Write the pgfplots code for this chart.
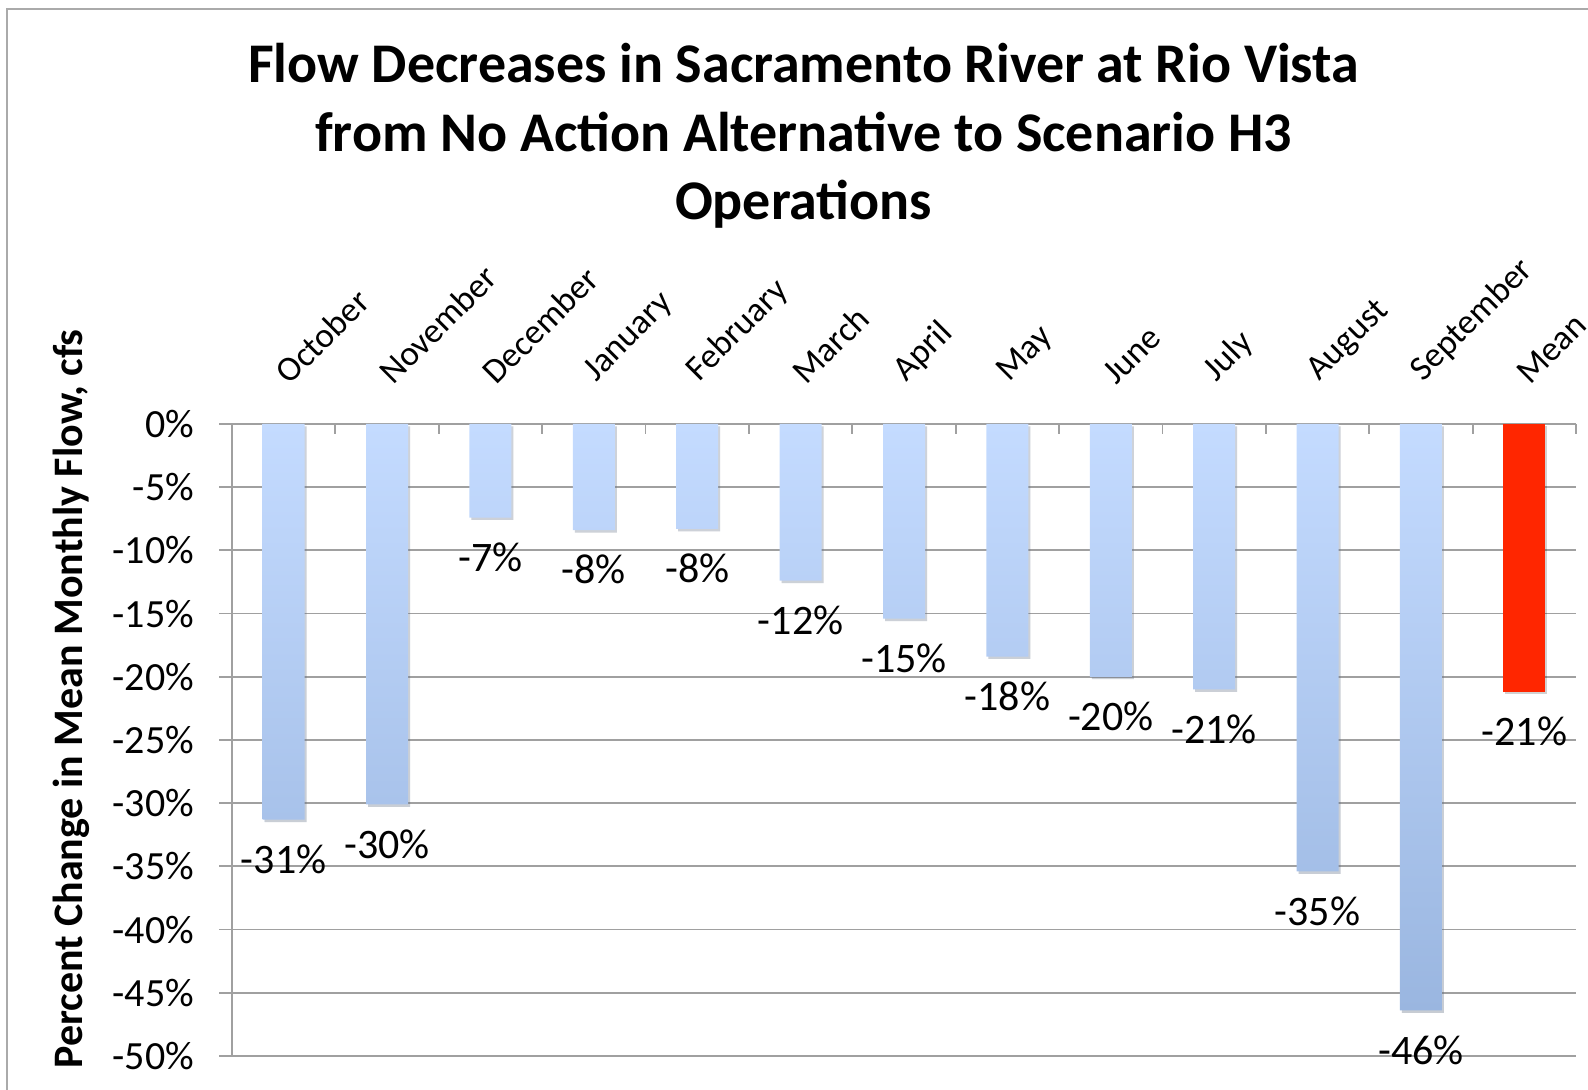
\documentclass[border=0pt]{standalone}
\usepackage{pgfplots}
\pgfplotsset{compat=1.18}
\usetikzlibrary{shadows}
\usepackage{fontspec}
\setmainfont{Carlito}
\definecolor{barTop}{RGB}{196,219,255}
\definecolor{barBot}{RGB}{154,182,224}
\definecolor{meanRed}{RGB}{255,38,0}
\definecolor{gridGray}{RGB}{160,160,160}
\definecolor{frameGray}{RGB}{170,170,170}
\begin{document}
\begin{tikzpicture}
\useasboundingbox (0pt,0pt) rectangle (794pt,545pt);
\draw[frameGray, line width=1pt] (3.5pt,-10pt) -- (3.5pt,540.5pt) -- (800pt,540.5pt);
\node[font=\fontsize{28}{34}\selectfont\bfseries, anchor=base] at (401.8pt,503.5pt) {Flow Decreases in Sacramento River at Rio Vista};
\node[font=\fontsize{28}{34}\selectfont\bfseries, anchor=base] at (401.8pt,469pt) {from No Action Alternative to Scenario H3};
\node[font=\fontsize{28}{34}\selectfont\bfseries, anchor=base] at (401.8pt,435pt) {Operations};
\node[font=\fontsize{21}{25}\selectfont\bfseries, rotate=90] at (35.5pt,195.5pt) {Percent Change in Mean Monthly Flow, cfs};
\begin{axis}[
  at={(116pt,17pt)}, anchor=south west, scale only axis,
  width=672pt, height=316pt,
  xmin=-0.5, xmax=12.5, ymin=-50, ymax=0,
  axis x line=top, axis y line=left,
  axis line style={draw=gridGray, line width=0.9pt, -},
  ytick={-50,-45,-40,-35,-30,-25,-20,-15,-10,-5,0},
  ymajorgrids, major grid style={draw=gridGray, line width=0.9pt},
  /pgf/number format/assume math mode=true,
  yticklabel={\pgfmathprintnumber{\tick}\%},
  tick align=outside, major tick length=6.5pt,
  tick style={draw=gridGray, line width=0.9pt},
  xtick={0,1,2,3,4,5,6,7,8,9,10,11,12},
  xticklabels={October,November,December,January,February,March,April,May,June,July,August,September,Mean},
  major x tick style={draw=none},
  minor xtick={-0.5,0.5,1.5,2.5,3.5,4.5,5.5,6.5,7.5,8.5,9.5,10.5,11.5,12.5},
  minor tick length=5pt,
  minor x tick style={draw=gridGray, line width=0.9pt, yshift=-5pt},
  xticklabel style={rotate=45, anchor=south west, font=\fontsize{17.5}{20}\selectfont, xshift=7.5pt, yshift=3pt},
  yticklabel style={font=\fontsize{20}{24}\selectfont, xshift=-9pt},
  clip=false,
  every node near coord/.append style={font=\fontsize{21}{24}\selectfont, text=black, anchor=north, yshift=-9pt},
  nodes near coords={\pgfmathprintnumber[fixed,precision=0]{\pgfplotspointmeta}\%},
]
\addplot[ybar, bar width=21pt, bar shift=0pt, draw=none, top color=barTop, bottom color=barBot,
  drop shadow={shadow xshift=1pt, shadow yshift=-1.2pt, opacity=0.18, fill=black}]
coordinates {(0,-31.3) (1,-30.1) (2,-7.4) (3,-8.4) (4,-8.3) (5,-12.4) (6,-15.4) (7,-18.4) (8,-20.0) (9,-21.0) (10,-35.4) (11,-46.4)};
\addplot[ybar, bar width=21pt, bar shift=0pt, draw=none, fill=meanRed,
  drop shadow={shadow xshift=1pt, shadow yshift=-1.2pt, opacity=0.18, fill=black}]
coordinates {(12,-21.2)};
\end{axis}
\end{tikzpicture}
\end{document}
